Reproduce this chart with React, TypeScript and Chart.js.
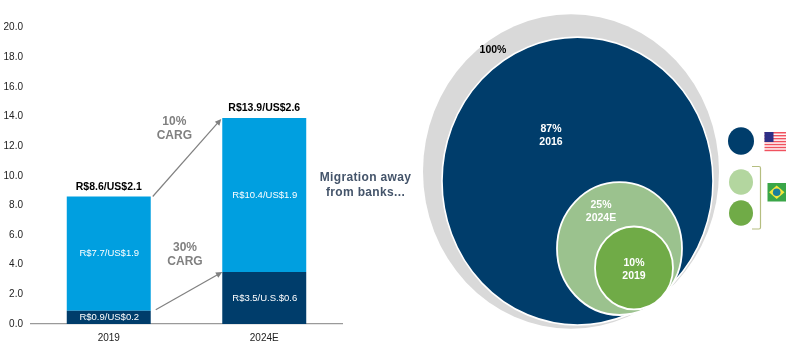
import React, { useEffect, useRef } from "react";
import { Chart, registerables } from "chart.js";

Chart.register(...registerables);

const categories = ["2019", "2024E"];
const domesticValues = [0.9, 3.5];
const crossBorderValues = [7.7, 10.4];
const domesticLabels = ["R$0.9/US$0.2", "R$3.5/U.S.$0.6"];
const crossBorderLabels = ["R$7.7/US$1.9", "R$10.4/US$1.9"];
const totalLabels = ["R$8.6/US$2.1", "R$13.9/US$2.6"];
const yTicks = [0, 2, 4, 6, 8, 10, 12, 14, 16, 18, 20];

const circleShares = ["100%", "87%\n2016", "25%\n2024E", "10%\n2019"];
const circleX = [571, 577.5, 619.5, 634];
const circleY = [161.4, 170.4, 233.9, 252.2];
const circleR = [148, 135.5, 62.5, 39];
const circleColors = ["#d9d9d9", "#003d6b", "#9bc28e", "#70ab47"];
const circleBorders = [0, 1.6, 1.8, 1.8];

const keyX = [741, 741, 741];
const keyY = [132.7, 171.3, 200.5];
const keyR = [13, 12, 12];
const keyColors = ["#003d6b", "#b3d69f", "#70ab47"];

const STRETCH = 1.0625;
const FONT = '"Liberation Sans", Arial, sans-serif';

function text(ctx: CanvasRenderingContext2D, lines: string[], x: number, y: number, lh: number, font: string, color: string, spacing = "0px") {
  ctx.save();
  ctx.font = font;
  ctx.fillStyle = color;
  ctx.textAlign = "center";
  ctx.textBaseline = "middle";
  (ctx as any).letterSpacing = spacing;
  lines.forEach((l, i) => ctx.fillText(l, x, y + i * lh));
  ctx.restore();
}

function arrow(ctx: CanvasRenderingContext2D, x0: number, y0: number, x1: number, y1: number) {
  const a = Math.atan2(y1 - y0, x1 - x0);
  const c = "#808080";
  ctx.save();
  ctx.strokeStyle = c;
  ctx.fillStyle = c;
  ctx.lineWidth = 1.2;
  ctx.beginPath();
  ctx.moveTo(x0, y0);
  ctx.lineTo(x1 - 5 * Math.cos(a), y1 - 5 * Math.sin(a));
  ctx.stroke();
  ctx.beginPath();
  ctx.moveTo(x1, y1);
  ctx.lineTo(x1 - 7 * Math.cos(a - 0.45), y1 - 7 * Math.sin(a - 0.45));
  ctx.lineTo(x1 - 7 * Math.cos(a + 0.45), y1 - 7 * Math.sin(a + 0.45));
  ctx.closePath();
  ctx.fill();
  ctx.restore();
}

const barAnnotations = {
  id: "barAnnotations",
  afterDatasetsDraw(chart: any) {
    const ctx = chart.ctx as CanvasRenderingContext2D;
    const low = chart.getDatasetMeta(0).data;
    const high = chart.getDatasetMeta(1).data;
    const y = chart.scales.y;
    const inner = `9.5px ${FONT}`;
    categories.forEach((_, i) => {
      const l = low[i].getCenterPoint();
      const h = high[i].getCenterPoint();
      text(ctx, [domesticLabels[i]], l.x + 0.5, l.y, 0, inner, "#ffffff");
      text(ctx, [crossBorderLabels[i]], h.x + 0.5, h.y, 0, inner, "#ffffff");
      text(ctx, [totalLabels[i]], h.x, high[i].y - 9.5, 0, `bold 10.5px ${FONT}`, "#000000");
    });
    const gap = high[0].width / 2;
    const x0 = high[0].x + gap;
    const x1 = high[1].x - gap;
    arrow(ctx, x0 + 2, y.getPixelForValue(8.6), x1 - 1, y.getPixelForValue(13.9) + 1);
    arrow(ctx, x0 + 5, y.getPixelForValue(0.9) - 1, x1, y.getPixelForValue(3.5));
    text(ctx, ["10%", "CARG"], 174.3, 121.5, 14, `bold 12px ${FONT}`, "#808080");
    text(ctx, ["30%", "CARG"], 185, 247.5, 14, `bold 12px ${FONT}`, "#808080");
    text(ctx, ["Migration away", "from banks..."], 365.5, 177.5, 15.5, `bold 12px ${FONT}`, "#44546a", "0.35px");
  },
};

const circleStretch = {
  id: "circleStretch",
  beforeDatasetsDraw(chart: any) {
    chart.ctx.save();
    chart.ctx.scale(1, STRETCH);
  },
  afterDatasetsDraw(chart: any) {
    chart.ctx.restore();
  },
};

const circleAnnotations = {
  id: "circleAnnotations",
  afterDraw(chart: any) {
    const ctx = chart.ctx as CanvasRenderingContext2D;
    const sx = chart.scales.x;
    const sy = chart.scales.y;
    const px = (v: number) => sx.getPixelForValue(v);
    const py = (v: number) => sy.getPixelForValue(v) * STRETCH;
    const bold = `bold 10.5px ${FONT}`;
    text(ctx, circleShares[0].split("\n"), px(493), py(47), 13, bold, "#000000");
    text(ctx, circleShares[1].split("\n"), px(551), py(121.4), 13, bold, "#ffffff");
    text(ctx, circleShares[2].split("\n"), px(601), py(192.9), 13, bold, "#ffffff");
    text(ctx, circleShares[3].split("\n"), px(634), py(247.5), 13, bold, "#ffffff");

    // bracket
    ctx.save();
    ctx.strokeStyle = "#b5be80";
    ctx.lineWidth = 1.2;
    ctx.beginPath();
    ctx.moveTo(px(752), 166.5);
    ctx.lineTo(px(759), 166.5);
    ctx.quadraticCurveTo(px(760.5), 166.5, px(760.5), 168);
    ctx.lineTo(px(760.5), 227.5);
    ctx.quadraticCurveTo(px(760.5), 229, px(759), 229);
    ctx.lineTo(px(752), 229);
    ctx.stroke();

    // US flag
    const fx = px(764.5);
    ctx.fillStyle = "#ffffff";
    ctx.fillRect(fx, 132, 21.5, 20);
    ctx.fillStyle = "#f0525f";
    for (let i = 0; i < 7; i++) ctx.fillRect(fx, 132 + i * 2.95, 21.5, 1.5);
    ctx.fillStyle = "#2e2f86";
    ctx.fillRect(fx, 132, 9, 10);

    // Brazil flag
    const bx = px(767.5);
    ctx.fillStyle = "#3aa648";
    ctx.fillRect(bx, 183, 18.5, 18.5);
    ctx.fillStyle = "#f5e63c";
    ctx.beginPath();
    ctx.moveTo(bx + 1.5, 192.2);
    ctx.lineTo(bx + 9.2, 185.5);
    ctx.lineTo(bx + 17, 192.2);
    ctx.lineTo(bx + 9.2, 199);
    ctx.closePath();
    ctx.fill();
    ctx.fillStyle = "#1b7f9c";
    ctx.beginPath();
    ctx.arc(bx + 9.2, 192.2, 3.8, 0, Math.PI * 2);
    ctx.fill();
    ctx.restore();
  },
};

export default function App() {
  const barRef = useRef<HTMLCanvasElement>(null);
  const circleRef = useRef<HTMLCanvasElement>(null);

  useEffect(() => {
    const bars = new Chart(barRef.current!, {
      type: "bar",
      data: {
        labels: categories,
        datasets: [
          { label: "Domestic", data: domesticValues, backgroundColor: "#003d6b", stack: "s", categoryPercentage: 0.54, barPercentage: 1 },
          { label: "Cross-border", data: crossBorderValues, backgroundColor: "#009fe0", stack: "s", categoryPercentage: 0.54, barPercentage: 1 },
        ],
      },
      options: {
        animation: false,
        responsive: false,
        events: [],
        layout: { padding: { top: 27.5, right: 78, left: 0, bottom: 0 } },
        plugins: { legend: { display: false }, tooltip: { enabled: false } },
        scales: {
          x: {
            stacked: true,
            grid: { display: false, drawTicks: false },
            border: { color: "#9a9a9a", width: 1.2 },
            ticks: { font: { family: FONT, size: 10 }, color: "#222222", padding: 8, maxRotation: 0 },
            afterFit(s: any) { s.height = 32; },
          },
          y: {
            stacked: true,
            min: 0,
            max: 20,
            afterBuildTicks(s: any) { s.ticks = yTicks.map((value) => ({ value })); },
            grid: { display: false, drawTicks: false },
            border: { display: false },
            ticks: {
              font: { family: FONT, size: 10 },
              color: "#222222",
              padding: 8,
              callback: (v: any) => Number(v).toFixed(1),
            },
            afterFit(s: any) { s.width = 31; },
          },
        },
      },
      plugins: [barAnnotations],
    } as any);

    const toPoints = (xs: number[], ys: number[], rs: number[]) =>
      xs.map((x, i) => ({ x, y: ys[i], r: rs[i] }));

    const circles = new Chart(circleRef.current!, {
      type: "bubble",
      data: {
        datasets: [
          { label: "Key", data: toPoints(keyX, keyY, keyR), backgroundColor: keyColors, borderWidth: 0, clip: false },
          { label: "Share", data: toPoints(circleX, circleY, circleR), backgroundColor: circleColors, borderColor: "#ffffff", borderWidth: circleBorders, clip: false },
        ],
      },
      options: {
        animation: false,
        responsive: false,
        events: [],
        layout: { padding: 0, autoPadding: false },
        plugins: { legend: { display: false }, tooltip: { enabled: false } },
        scales: {
          x: { type: "linear", display: false, min: 420, max: 800 },
          y: { type: "linear", display: false, reverse: true, min: 0, max: 356 },
        },
      },
      plugins: [circleStretch, circleAnnotations],
    } as any);

    return () => {
      bars.destroy();
      circles.destroy();
    };
  }, []);

  return (
    <div style={{ position: "absolute", left: 0, top: 0, width: 800, height: 356, overflow: "hidden", background: "#fff" }}>
      <canvas ref={barRef} width={420} height={356} style={{ position: "absolute", left: 0, top: 0, display: "block", filter: "blur(0.35px)" }} />
      <canvas ref={circleRef} width={380} height={356} style={{ position: "absolute", left: 420, top: 0, display: "block", filter: "blur(0.35px)" }} />
    </div>
  );
}
